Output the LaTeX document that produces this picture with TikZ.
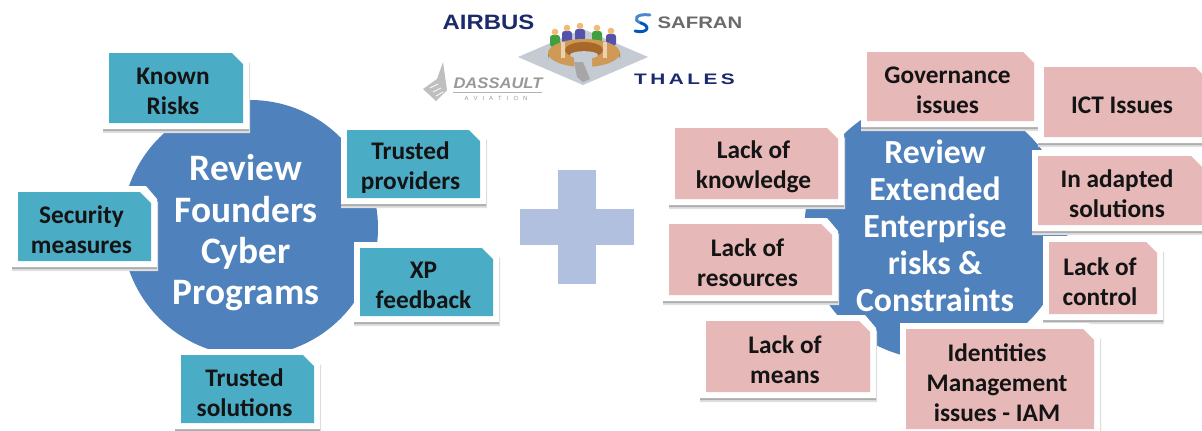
\documentclass[tikz,border=0pt]{standalone}
\usepackage{fontspec}
\setmainfont{Carlito}
\newfontfamily\logofont{Liberation Sans}
\usetikzlibrary{calc}
\definecolor{bigblue}{HTML}{4F81BD}
\definecolor{tealbox}{HTML}{4BACC6}
\definecolor{pinkbox}{HTML}{E6B8B7}
\definecolor{plusblue}{HTML}{B0C0DE}
\definecolor{navy}{HTML}{1B2A6B}
\definecolor{brownA}{HTML}{CF9A55}
\definecolor{brownB}{HTML}{A8682A}
\definecolor{brownC}{HTML}{EBD2AE}
\definecolor{floorgray}{HTML}{C5CBD3}
\tikzset{
  x=0.75pt,y=-0.75pt,
  bigcircle/.style={circle,fill=bigblue,draw=none,inner sep=0pt,minimum size=#1*0.75pt},
  bigtextA/.style={text=white,font=\fontsize{28}{31}\selectfont\bfseries,align=center},
  bigtextB/.style={text=white,font=\fontsize{25.3}{27.7}\selectfont\bfseries,align=center},
  boxtext/.style={text=black!92,font=\fontsize{19}{22.5}\selectfont\bfseries,align=center},
  logotext/.style={inner sep=0pt},
}
% #1 name, #2 x1, #3 y1, #4 x2, #5 y2, #6 colour, #7 text
\newcommand{\snipbox}[7]{%
  \fill[black!12] (#2-6,#3-3) -- (#4-7,#3-3) -- (#4+7,#3+10) -- (#4+7,#5+10) -- (#2-6,#5+10) -- cycle;
  \fill[black!32] (#2-6,#3-3) -- (#4-7,#3-3) -- (#4+6,#3+10) -- (#4+6,#5+8) -- (#2-6,#5+8) -- cycle;
  \fill[white] (#2-6,#3-6) -- (#4-5,#3-6) -- (#4+6,#3+7) -- (#4+6,#5+6) -- (#2-6,#5+6) -- cycle;
  \fill[#6] (#2,#3) -- (#4-11,#3) -- (#4,#3+11) -- (#4,#5) -- (#2,#5) -- cycle;
  \node[boxtext] (#1) at ({(#2+#4)/2-3},{(#3+#5)/2+3.5}) {#7};
}
\begin{document}
\begin{tikzpicture}
\useasboundingbox (0,0) rectangle (1202,430);
\fill[white] (0,0) rectangle (1202,430);

% main discs
\node[bigcircle=256] (founders) at (250,228) {};
\node[bigcircle=263] (extended) at (936,228) {};

% plus sign
\fill[plusblue] (558,170) rectangle (596,284);
\fill[plusblue] (520,209) rectangle (634,245);

% left boxes
\snipbox{known}{109}{53}{243}{123}{tealbox}{Known\\Risks}
\snipbox{security}{18}{192}{151}{261}{tealbox}{Security\\measures}
\snipbox{providers}{347}{130}{480}{198}{tealbox}{Trusted\\providers}
\snipbox{xp}{360}{248}{493}{316}{tealbox}{XP\\feedback}
\snipbox{solutions}{181}{355}{314}{423}{tealbox}{Trusted\\solutions}
\node[bigtextA] (foundertext) at (246,233) {Review\\Founders\\Cyber\\Programs};

% right boxes
\snipbox{governance}{867}{52}{1034}{121}{pinkbox}{Governance\\issues}
\snipbox{ict}{1044}{67}{1206}{137}{pinkbox}{ICT Issues}
\snipbox{adapted}{1038}{156}{1202}{225}{pinkbox}{In adapted\\solutions}
\snipbox{control}{1049}{242}{1157}{314}{pinkbox}{Lack of\\control}
\snipbox{knowledge}{675}{128}{838}{199}{pinkbox}{Lack of\\knowledge}
\snipbox{resources}{669}{224}{832}{295}{pinkbox}{Lack of\\resources}
\snipbox{means}{706}{321}{870}{392}{pinkbox}{Lack of\\means}
\snipbox{identities}{906}{329}{1094}{429}{pinkbox}{Identities\\Management\\issues - IAM}
\node[bigtextB] (extendedtext) at (935,226) {Review\\Extended\\Enterprise\\risks \&\\Constraints};

% round table emblem
\fill[floorgray] (518,57) -- (583,29) -- (648,57) -- (583,85) -- cycle;
\foreach \px/\py/\pc in {555/32/green!50!black!75,567/28/blue!35!gray,580/26/blue!35!gray,597/28/green!50!black!75,611/31/blue!35!gray}{
  \fill[\pc,rounded corners=2pt] (\px-5,\py+15) rectangle (\px+5,\py+3);
  \fill[brownC!70!orange] (\px,\py) circle [radius=3.3];
}
% lower wall, then the top surface
\fill[brownB] (548,53) -- (548,59) arc[start angle=180,end angle=360,x radius=36,y radius=15] -- (620,53) -- cycle;
\fill[brownA] (584,53) ellipse [x radius=36,y radius=14];
\fill[brownC] (561,42) rectangle (565,58);
\fill[brownC] (603,42) rectangle (607,58);
% hole: dark inner wall and floor
\fill[brownB] (584,50) ellipse [x radius=19,y radius=8];
\fill[floorgray] (584,55) ellipse [x radius=14,y radius=3.8];
% gap in the ring
\fill[floorgray] (574,56) -- (592,56) -- (592,73) -- (589,76) -- (577,76) -- (574,66) -- cycle;
\fill[black!35] (574,62) -- (583,62) -- (590,79) -- (583,82) -- (577,77) -- cycle;

% logos
\node[logotext,text=navy,font=\logofont\bfseries\fontsize{15.6}{15}\selectfont] (airbus) at (488.5,22) {\scalebox{1.15}[1]{AIRBUS}};
\node[logotext,text=black!58,font=\logofont\bfseries\fontsize{12.5}{15}\selectfont] (safran) at (700,23) {\scalebox{1.22}[1]{SAFRAN}};
\draw[line width=2.2pt,cyan!50!blue!75,line cap=round] (650,15) .. controls (636,13) and (632,20) .. (641,23);
\draw[line width=2.2pt,blue!55!cyan!75!black,line cap=round] (641,23) .. controls (651,26) and (648,34) .. (635,31);
\node[logotext,text=navy,font=\logofont\bfseries\fontsize{12}{15}\selectfont] (thales) at (684.5,79.5) {\scalebox{1.3}[0.95]{T\,H\,A\,L\,E\,S}};
\node[logotext,text=black!40,font=\logofont\bfseries\itshape\fontsize{11.5}{15}\selectfont] (dassault) at (498,83) {\scalebox{1.08}[1]{DASSAULT}};
\draw[black!30,line width=0.5pt] (453,92) -- (542,92);
\node[logotext,text=black!40,font=\logofont\fontsize{4.5}{6}\selectfont] (aviation) at (496,98) {A\ \ \ V\ \ \ I\ \ \ A\ \ \ T\ \ \ I\ \ \ O\ \ \ N};
\fill[black!25] (443,62) -- (447,90) -- (436,101) -- (423,89) -- (437,79) -- cycle;
\draw[white,line width=0.6pt] (430,88) -- (438,84) (433,92) -- (441,88) (436,96) -- (443,92);
\end{tikzpicture}
\end{document}
